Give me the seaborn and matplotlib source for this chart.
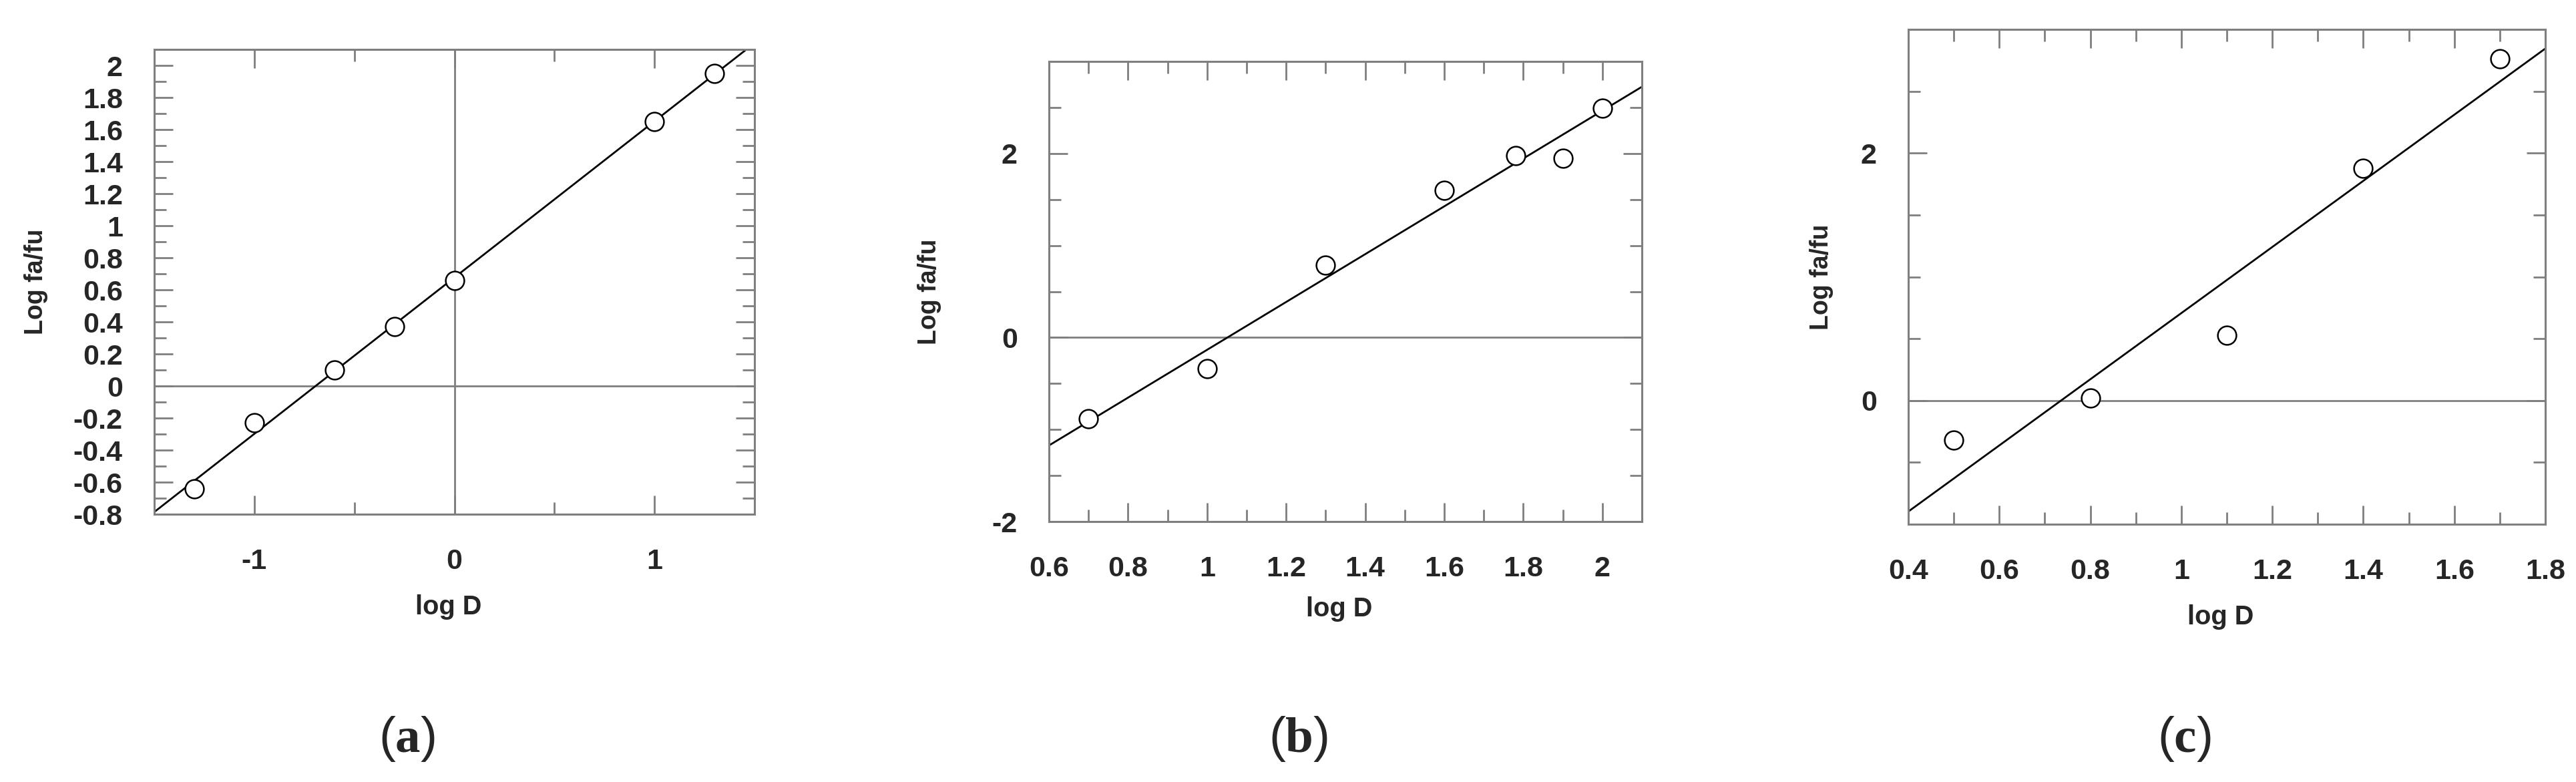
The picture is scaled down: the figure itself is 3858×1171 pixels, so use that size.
import matplotlib
matplotlib.use('Agg')
import matplotlib.pyplot as plt
from matplotlib.ticker import MultipleLocator, FixedLocator
import seaborn as sns

# values
log_d_a = [-1.3, -1.0, -0.6, -0.3, 0.0, 1.0, 1.3]
log_fafu_a = [-0.64, -0.23, 0.10, 0.37, 0.66, 1.65, 1.95]

log_d_b = [0.7, 1.0, 1.3, 1.6, 1.78, 1.9, 2.0]
log_fafu_b = [-0.88, -0.34, 0.79, 1.60, 1.98, 1.95, 2.49]

log_d_c = [0.5, 0.8, 1.1, 1.4, 1.7]
log_fafu_c = [-0.32, 0.02, 0.53, 1.88, 2.76]

# tick labels shown on each panel
xticks_a = [-1, 0, 1]
yticks_a = [-0.8, -0.6, -0.4, -0.2, 0, 0.2, 0.4, 0.6, 0.8, 1, 1.2, 1.4, 1.6, 1.8, 2]
xticks_b = [0.6, 0.8, 1, 1.2, 1.4, 1.6, 1.8, 2]
yticks_b = [-2, 0, 2]
xticks_c = [0.4, 0.6, 0.8, 1, 1.2, 1.4, 1.6, 1.8]
yticks_c = [0, 2]

panel_tags = ['a', 'b', 'c']

sns.set_style('ticks')
plt.rcParams['font.family'] = ['Liberation Sans', 'DejaVu Sans']
plt.rcParams['mathtext.fontset'] = 'custom'
plt.rcParams['mathtext.rm'] = 'Liberation Serif'
plt.rcParams['mathtext.bf'] = 'Liberation Serif:bold'

GRAY = '#7f7f7f'

fig = plt.figure(figsize=(19.29, 5.855), dpi=200)

ax_a = fig.add_axes([0.0599, 0.3424, 0.2330, 0.5944])
ax_b = fig.add_axes([0.4072, 0.3330, 0.2302, 0.5884])
ax_c = fig.add_axes([0.7408, 0.3296, 0.2473, 0.6328])

panels = [
    (ax_a, log_d_a, log_fafu_a, (-1.5, 1.5), (-0.8, 2.1), xticks_a, yticks_a, 0.5, 0.1, (-0.177, -0.172)),
    (ax_b, log_d_b, log_fafu_b, (0.6, 2.1), (-2, 3), xticks_b, yticks_b, 0.1, 0.5, (-0.181, -0.163)),
    (ax_c, log_d_c, log_fafu_c, (0.4, 1.8), (-1, 3), xticks_c, yticks_c, 0.1, 0.5, (-0.117, -0.162)),
]

for ax, xs, ys, xlim, ylim, xt, yt, xminor, yminor, (ylab_x, xlab_y) in panels:
    # limits first so the fitted line spans the whole box
    ax.set_xlim(*xlim)
    ax.set_ylim(*ylim)
    ax.axhline(0, color=GRAY, lw=1.0, zorder=1)
    sns.regplot(x=xs, y=ys, ax=ax, ci=None, truncate=False, color='black',
                scatter_kws=dict(s=100, facecolors='white', edgecolors='black',
                                 linewidths=0.9, alpha=1, zorder=3),
                line_kws=dict(lw=1.0, zorder=2))
    ax.set_xlim(*xlim)
    ax.set_ylim(*ylim)

    ax.xaxis.set_major_locator(FixedLocator(xt))
    ax.yaxis.set_major_locator(FixedLocator(yt))
    ax.set_xticklabels([f'{v:g}' for v in xt])
    ax.set_yticklabels([f'{v:g}' for v in yt])
    ax.xaxis.set_minor_locator(MultipleLocator(xminor))
    ax.yaxis.set_minor_locator(MultipleLocator(yminor))

    ax.tick_params(which='both', direction='in', top=True, right=True,
                   color=GRAY, width=1.0)
    ax.tick_params(which='major', length=10)
    ax.tick_params(which='minor', length=6.5)
    ax.tick_params(axis='x', pad=18.5, labelsize=15.5)
    ax.tick_params(axis='y', pad=17, labelsize=15.5)
    for lab in ax.get_xticklabels() + ax.get_yticklabels():
        lab.set_fontweight('bold')

    for sp in ax.spines.values():
        sp.set_color(GRAY)
        sp.set_linewidth(1.1)

    ax.set_xlabel('log D', fontsize=14.3, fontweight='bold')
    ax.set_ylabel('Log fa/fu', fontsize=13.5, fontweight='bold')
    ax.xaxis.set_label_coords(0.49, xlab_y)
    ax.yaxis.set_label_coords(ylab_x, 0.5)

# panel (a) also has the vertical zero line
ax_a.axvline(0, color=GRAY, lw=1.0, zorder=1)

tag_x = [0.158, 0.504, 0.848]
for tag, tx in zip(panel_tags, tag_x):
    fig.text(tx, 0.0547, r'($\mathbf{' + tag + '}$)', fontsize=27,
             ha='center', va='center')

fig.savefig('out.png', dpi=200, facecolor='white')
